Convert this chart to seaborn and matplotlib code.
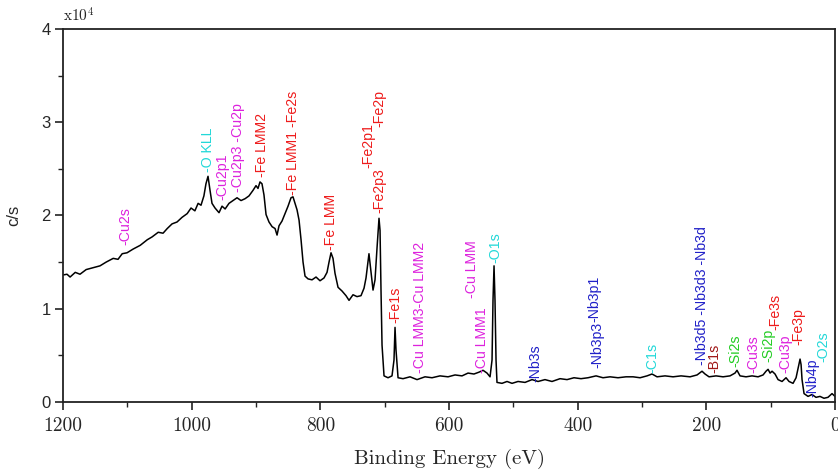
import matplotlib
matplotlib.use("Agg")
import matplotlib.pyplot as plt
import seaborn as sns
import numpy as np
import pandas as pd
from matplotlib.ticker import MultipleLocator, FuncFormatter

# ---------------- data ----------------
energy_eV = [1200, 1193.8, 1189, 1181, 1173.6, 1164, 1153, 1142.5, 1133, 1122,
             1114.5, 1108, 1100.5, 1091, 1080, 1069, 1061.6, 1052, 1044.5, 1038,
             1030.5, 1022.8, 1015, 1007, 1001, 995, 990, 985.5, 981, 977.8,
             974.6, 971.5, 968.4, 963.7, 957.5, 952.8, 948, 942, 935.7, 929.5,
             923.3, 917, 910.9, 904.6, 900, 896.9, 893.8, 890.7, 887.6, 884.4,
             879.8, 875, 870.4, 867.3, 864.2, 859.6, 854.9, 850.2, 845.6, 842.5,
             839.4, 836.2, 833.1, 830, 826.9, 823.8, 819.1, 812.9, 806.7, 800.5,
             794.3, 789.6, 786.5, 783.4, 780.3, 777.2, 772.5, 766.3, 760.1, 755.4,
             749.2, 743, 736.8, 732.1, 729, 725.9, 724.4, 721.2, 718.1, 715,
             711.9, 708.8, 707.2, 705.7, 704.1, 701, 694.8, 688.6, 685.5, 683.9,
             682.4, 679.2, 671.5, 660.6, 649.7, 637.3, 626.4, 614, 601.5, 590.6,
             579.8, 570.4, 561.2, 553.3, 547.1, 540.9, 536.2, 533.1, 531.6, 530,
             528.5, 526.9, 525.4, 517.6, 509.8, 502, 492.7, 481.8, 470.9, 461.6,
             450.8, 439.9, 427.4, 416.5, 405.7, 394.8, 383.9, 371.4, 360.6, 349.7,
             337.3, 324.8, 313.9, 303, 292.2, 284.4, 276.6, 264.2, 251.7, 239.3,
             225.3, 214.4, 206.7, 202, 195.8, 184.9, 174, 163.2, 155.4, 152.3,
             147.6, 138.3, 128.9, 119.6, 111.8, 107.2, 104, 100.9, 97.8, 93.2,
             88.5, 82.3, 76.1, 71.4, 65.2, 60.5, 57.4, 54.3, 52.7, 51.2,
             48.1, 41.9, 35.7, 29.5, 23.3, 17.1, 10.9, 4.6, 0]
counts_x1e4 = [1.362, 1.37, 1.34, 1.39, 1.37, 1.42, 1.44, 1.46, 1.50, 1.54,
               1.53, 1.59, 1.60, 1.64, 1.68, 1.74, 1.77, 1.82, 1.81, 1.86,
               1.91, 1.93, 1.98, 2.02, 2.08, 2.05, 2.13, 2.11, 2.21, 2.34,
               2.42, 2.27, 2.13, 2.08, 2.03, 2.10, 2.07, 2.13, 2.16, 2.19,
               2.16, 2.18, 2.21, 2.27, 2.32, 2.29, 2.36, 2.34, 2.22, 2.01,
               1.93, 1.88, 1.86, 1.79, 1.89, 1.94, 2.02, 2.10, 2.19, 2.20,
               2.13, 2.06, 1.95, 1.74, 1.50, 1.35, 1.32, 1.31, 1.34, 1.30,
               1.33, 1.39, 1.50, 1.60, 1.54, 1.38, 1.23, 1.19, 1.14, 1.09,
               1.15, 1.13, 1.14, 1.22, 1.33, 1.50, 1.59, 1.39, 1.20, 1.31,
               1.65, 1.97, 1.84, 1.20, 0.61, 0.28, 0.26, 0.28, 0.45, 0.80,
               0.56, 0.26, 0.25, 0.27, 0.24, 0.27, 0.26, 0.28, 0.27, 0.29,
               0.28, 0.31, 0.30, 0.32, 0.34, 0.31, 0.27, 0.45, 1.09, 1.46,
               1.09, 0.45, 0.21, 0.20, 0.22, 0.20, 0.22, 0.21, 0.24, 0.22,
               0.24, 0.22, 0.25, 0.24, 0.26, 0.25, 0.26, 0.28, 0.26, 0.27,
               0.26, 0.27, 0.27, 0.26, 0.28, 0.30, 0.27, 0.28, 0.27, 0.28,
               0.27, 0.29, 0.33, 0.30, 0.27, 0.28, 0.27, 0.28, 0.31, 0.34,
               0.28, 0.27, 0.28, 0.27, 0.29, 0.33, 0.35, 0.31, 0.33, 0.30,
               0.24, 0.22, 0.26, 0.22, 0.20, 0.26, 0.36, 0.46, 0.40, 0.24,
               0.09, 0.06, 0.08, 0.05, 0.06, 0.04, 0.05, 0.09, 0.06]

label_texts = ["-Cu2s", "-O KLL", "-Cu2p1", "-Cu2p3 -Cu2p", "-Fe LMM2",
               "-Fe LMM1 -Fe2s", "-Fe LMM", "-Fe2p3", "-Fe2p1", "-Fe2p",
               "-Fe1s", "-Cu LMM3-Cu LMM2", "-Cu LMM1", "-Cu LMM", "-O1s",
               "-Nb3s", "-Nb3p3", "-Nb3p1", "-C1s", "-Nb3d5 -Nb3d3 -Nb3d",
               "-B1s", "-Si2s", "-Cu3s", "-Si2p", "-Fe3s", "-Cu3p", "-Fe3p",
               "-Nb4p", "-O2s"]
label_energy = [1103.6, 974.6, 952.8, 928.0, 890.7,
                842.5, 783.4, 708.8, 725.9, 708.8,
                683.9, 645.0, 548.6, 564.0, 528.5,
                466.3, 370.0, 374.6, 284.4, 206.0,
                187.0, 155.4, 127.4, 104.0, 93.2, 77.7, 57.4,
                35.7, 18.6]
label_height_x1e4 = [1.68, 2.47, 2.17, 2.25, 2.41,
                     2.22, 1.63, 2.03, 2.51, 2.95,
                     0.85, 0.31, 0.31, 1.12, 1.49,
                     0.21, 0.36, 0.86, 0.31, 0.40,
                     0.31, 0.38, 0.31, 0.43, 0.77, 0.31, 0.61,
                     0.05, 0.43]
label_element = ["Cu", "O", "Cu", "Cu", "Fe",
                 "Fe", "Fe", "Fe", "Fe", "Fe",
                 "Fe", "Cu", "Cu", "Cu", "O",
                 "Nb", "Nb", "Nb", "C", "Nb",
                 "B", "Si", "Cu", "Si", "Fe", "Cu", "Fe",
                 "Nb", "O"]

x_ticks = [1200, 1000, 800, 600, 400, 200, 0]
y_ticks_x1e4 = [0, 1, 2, 3, 4]

# ---------------- styling ----------------
element_colors = {"Cu": "#dd22dd", "O": "#22d8d8", "Fe": "#ee1c1c",
                  "Nb": "#2020c8", "C": "#22d8d8", "B": "#a01818",
                  "Si": "#22cc22"}

sns.set_style("ticks")
plt.rcParams["font.family"] = ["Liberation Sans", "DejaVu Sans"]
plt.rcParams["mathtext.fontset"] = "cm"

df = pd.DataFrame({"energy": energy_eV,
                   "counts": np.array(counts_x1e4) * 1e4})

fig = plt.figure(figsize=(8.38, 4.75), dpi=100)
ax = fig.add_axes([0.0752, 0.1537, 0.9212, 0.7853])

sns.lineplot(data=df, x="energy", y="counts", ax=ax, color="black",
             linewidth=1.1, estimator=None, sort=False)

ax.set_xlim(1200, 0)
ax.set_ylim(0, 40000)
ax.set_xticks(x_ticks)
ax.xaxis.set_minor_locator(MultipleLocator(100))
ax.set_yticks(np.array(y_ticks_x1e4) * 1e4)
ax.yaxis.set_minor_locator(MultipleLocator(5000))
ax.yaxis.set_major_formatter(FuncFormatter(lambda v, _: f"{v / 1e4:g}"))

for s in ax.spines.values():
    s.set_linewidth(1.3)
    s.set_color("#222222")
ax.tick_params(axis="both", which="major", direction="out", length=6,
               width=1.2, color="#222222")
ax.tick_params(axis="both", which="minor", direction="out", length=3.5,
               width=1.0, color="#222222")
ax.tick_params(axis="y", labelsize=12, pad=3)
ax.tick_params(axis="x", labelsize=14, pad=5)
for lab in ax.get_xticklabels():
    lab.set_fontfamily("cmr10")

ax.set_xlabel("Binding Energy (eV)", fontfamily="cmr10", fontsize=15,
              labelpad=10)
ax.set_ylabel("c/s", fontsize=12, labelpad=14)

ax.text(0.0, 1.012, r"x10$^{4}$", transform=ax.transAxes, fontfamily="cmr10",
        fontsize=11, ha="left", va="bottom")

for txt, e, h, el in zip(label_texts, label_energy, label_height_x1e4,
                         label_element):
    ax.text(e, h * 1e4, txt, rotation=90, ha="center", va="bottom",
            color=element_colors[el], fontsize=10.2,
            fontfamily=["Liberation Sans", "DejaVu Sans"])

fig.savefig("out.png", dpi=100)
